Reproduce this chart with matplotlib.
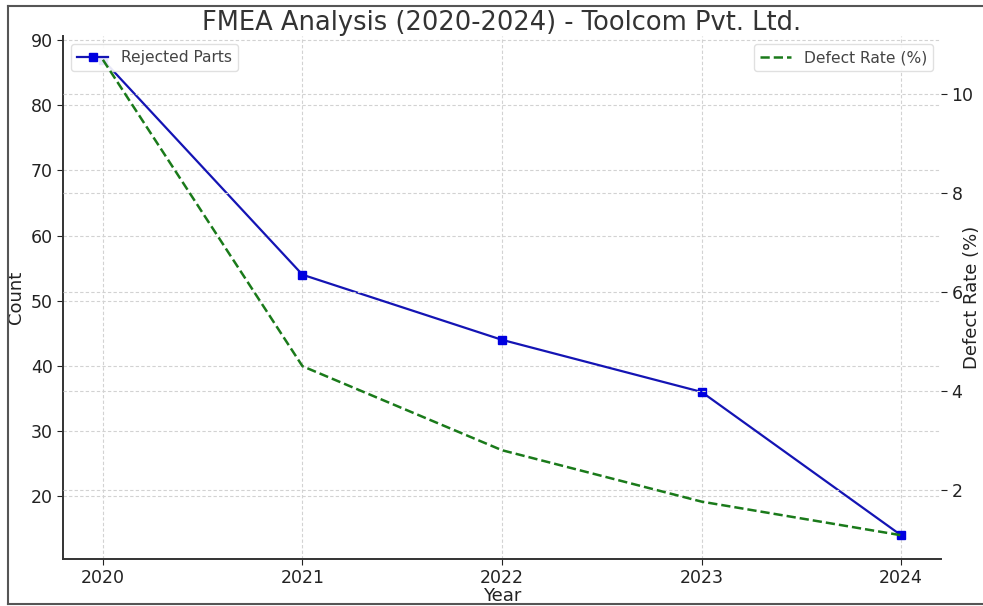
import matplotlib
matplotlib.use("Agg")
import matplotlib.pyplot as plt
from matplotlib.lines import Line2D

years = [2020, 2021, 2022, 2023, 2024]
rejected_parts = [87, 54, 44, 36, 14]
defect_rate = [10.7, 4.5, 2.8, 1.76, 1.08]
year_labels = ["2020", "2021", "2022", "2023", "2024"]

W, H = 983, 606
fig = plt.figure(figsize=(W / 100, H / 100), dpi=100)
ax = fig.add_axes([63 / W, 1 - 559 / H, (941 - 63) / W, (559 - 36) / H])
ax2 = ax.twinx()

ax.plot(years, rejected_parts, color="#1414b4", marker="s", markersize=6,
        markerfacecolor="#0000e0", markeredgecolor="#0000e0",
        linewidth=1.6, label="Rejected Parts")
ax2.plot(years, defect_rate, color="#1a7a1a", linestyle="--", linewidth=1.8,
         label="Defect Rate (%)")

ax.set_xticks(years)
ax.set_xticklabels(year_labels)
ax.set_yticks([20, 30, 40, 50, 60, 70, 80, 90])
ax2.set_yticks([2, 4, 6, 8, 10])

for a in (ax, ax2):
    a.grid(True, linestyle=(0, (3, 2)), color="#d2d2d2", linewidth=0.8)
    a.tick_params(labelsize=12.5, colors="#222222", length=4)
    for side in ("top", "right"):
        a.spines[side].set_visible(False)
ax2.spines["left"].set_visible(False)
ax2.spines["bottom"].set_visible(False)
ax.spines["left"].set_color("#333333")
ax.spines["bottom"].set_color("#333333")
ax.spines["left"].set_linewidth(1.4)
ax.spines["bottom"].set_linewidth(1.4)

ax.set_xlabel("Year", fontsize=13, color="#222222")
ax.xaxis.set_label_coords(0.5, -0.053)
ax.set_ylabel("Count", fontsize=13, color="#222222", labelpad=4)
ax2.set_ylabel("Defect Rate (%)", fontsize=13, color="#222222")
ax2.yaxis.set_label_coords(1.025, 0.5)
ax.set_title("FMEA Analysis (2020-2024) - Toolcom Pvt. Ltd.", fontsize=18.5,
             color="#333333", pad=3)

leg1 = ax.legend(loc="upper left", fontsize=11.2, framealpha=0.9,
                 edgecolor="#dddddd")
leg2 = ax2.legend(loc="upper right", fontsize=11.2, framealpha=0.9,
                  edgecolor="#dddddd")
for leg in (leg1, leg2):
    for t in leg.get_texts():
        t.set_color("#444444")

# thin frame around the figure
for xs, ys in [((8 / W, 1), (1 - 6 / H, 1 - 6 / H)),
               ((8 / W, 8 / W), (1 - 6 / H, 1 - 604 / H)),
               ((8 / W, 1), (1 - 604 / H, 1 - 604 / H))]:
    fig.add_artist(Line2D(xs, ys, color="#555555", linewidth=1.5,
                          transform=fig.transFigure))

fig.savefig("out.png", dpi=100)
